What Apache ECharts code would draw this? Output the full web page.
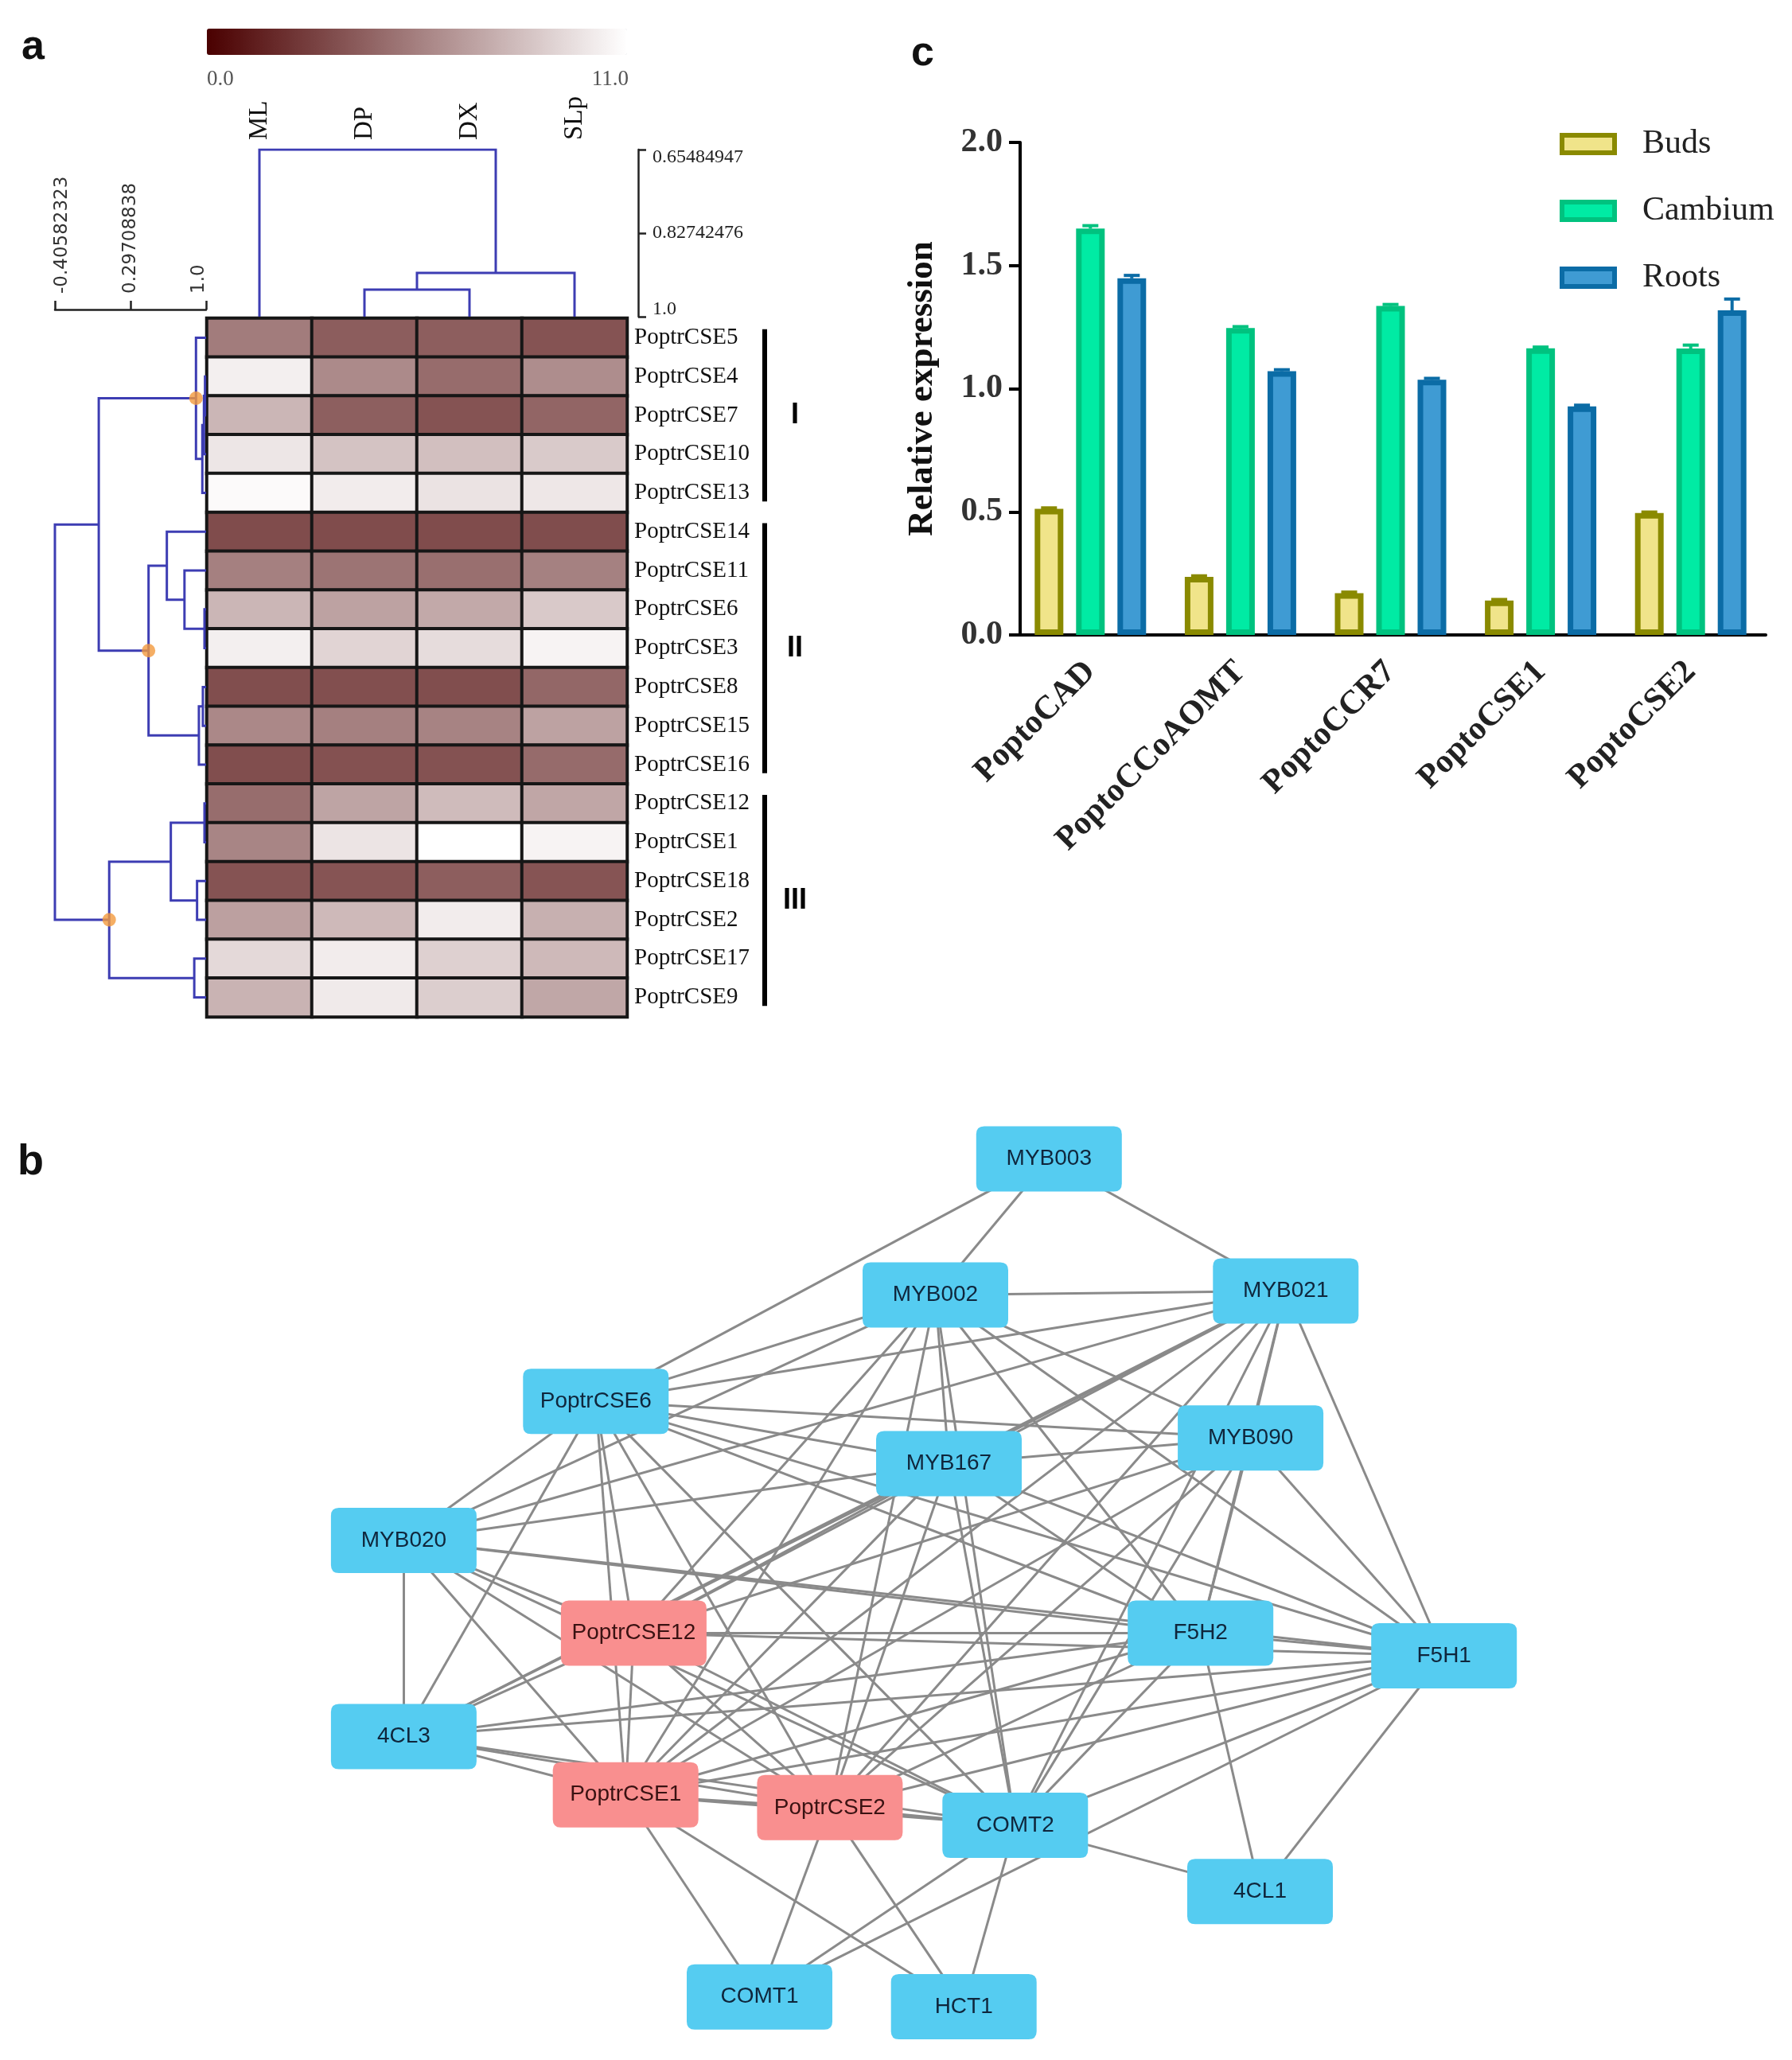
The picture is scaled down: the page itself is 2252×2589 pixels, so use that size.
<!DOCTYPE html>
<html>
<head>
<meta charset="utf-8">
<script src="https://cdn.jsdelivr.net/npm/echarts@6/dist/echarts.min.js"></script>
<style>
html,body{margin:0;padding:0;background:#fff;}
#chart{width:2252px;height:2589px;}
</style>
</head>
<body>
<div id="chart"></div>
<script>
// ---------- Panel a: heatmap data ----------
const colLabels = ['ML', 'DP', 'DX', 'SLp'];
const rowLabels = ['PoptrCSE5','PoptrCSE4','PoptrCSE7','PoptrCSE10','PoptrCSE13','PoptrCSE14','PoptrCSE11','PoptrCSE6','PoptrCSE3','PoptrCSE8','PoptrCSE15','PoptrCSE16','PoptrCSE12','PoptrCSE1','PoptrCSE18','PoptrCSE2','PoptrCSE17','PoptrCSE9'];
const valML  = [5.35,10.3,7.85,9.9,10.8,3.28,5.5,7.85,10.3,3.36,5.87,3.36,4.7,5.74,3.58,6.9,9.36,7.7];
const valDP  = [4.0,5.95,4.1,8.4,10.2,3.28,5.0,7.0,9.15,3.4,5.5,3.5,7.07,9.83,3.62,8.0,10.2,10.1];
const valDX  = [4.05,4.66,3.58,8.24,9.8,3.28,4.8,7.3,9.5,3.36,5.65,3.55,8.07,11.0,4.05,10.2,8.97,8.9];
const valSLp = [3.6,6.1,4.36,8.7,9.96,3.3,5.55,8.67,10.5,4.45,7.0,4.6,7.16,10.5,3.62,7.6,8.0,7.2];
const colorbarRange = [0, 11];
const colorbarLabels = ['0.0', '11.0'];
const heatColors = ['#4a0000', '#ffffff'];

// dendrogram trees: [similarity, left, right, markDot]
const colTree = [0.65484947, 'ML', [0.9096, [0.9441, 'DP', 'DX'], 'SLp']];
const rowTree = [-0.40582323,
  [0.002,
    [0.906, 'PoptrCSE5', [0.965, [0.98, [0.99, 'PoptrCSE4', 'PoptrCSE7'], 'PoptrCSE10'], 'PoptrCSE13'], true],
    [0.465, [0.635, 'PoptrCSE14', [0.799, 'PoptrCSE11', [0.985, 'PoptrCSE6', 'PoptrCSE3']]],
            [0.933, [0.970, 'PoptrCSE8', 'PoptrCSE15'], 'PoptrCSE16'], true]
  ],
  [0.099, [0.672, [0.985, 'PoptrCSE12', 'PoptrCSE1'], [0.916, 'PoptrCSE18', 'PoptrCSE2']],
          [0.890, 'PoptrCSE17', 'PoptrCSE9'], true]
];
const topScaleMin = 0.65484947;
const topScaleLabels = ['1.0', '0.82742476', '0.65484947'];
const leftScaleMin = -0.40582323;
const leftScaleLabels = ['1.0', '0.29708838', '-0.40582323'];
const groupNames = ['I', 'II', 'III'];
const groupStart = [0, 5, 12];
const groupEnd = [5, 12, 18];

// ---------- Panel c: bar data ----------
const genes = ['PoptoCAD', 'PoptoCCoAOMT', 'PoptoCCR7', 'PoptoCSE1', 'PoptoCSE2'];
const budsVals    = [0.512, 0.236, 0.170, 0.140, 0.495];
const budsErr     = [0.004, 0.004, 0.004, 0.004, 0.004];
const cambiumVals = [1.650, 1.246, 1.336, 1.164, 1.163];
const cambiumErr  = [0.012, 0.006, 0.006, 0.005, 0.014];
const rootsVals   = [1.448, 1.071, 1.036, 0.928, 1.318];
const rootsErr    = [0.012, 0.006, 0.006, 0.005, 0.046];
const yTickLabels = ['0.0', '0.5', '1.0', '1.5', '2.0'];

// ---------- Panel b: network ----------
const nodeNames = ['MYB003','MYB002','MYB021','PoptrCSE6','MYB090','MYB167','MYB020','PoptrCSE12','F5H2','F5H1','4CL3','PoptrCSE1','PoptrCSE2','COMT2','4CL1','COMT1','HCT1'];
const nodeX = [59.9, 51.5, 77.4, 26.4, 74.8, 52.5, 12.2, 29.2, 71.1, 89.1, 12.2, 28.6, 43.7, 57.4, 75.5, 38.5, 53.6];
const nodeY = [8.6, 22.4, 22.0, 33.2, 36.9, 39.5, 47.3, 56.7, 56.7, 59.0, 67.2, 73.1, 74.4, 76.2, 82.9, 93.6, 94.6];
const highlightNodes = ['PoptrCSE12', 'PoptrCSE1', 'PoptrCSE2'];
const edgeSources = [
 'MYB003','MYB003','MYB003',
 'MYB002','MYB002','MYB002','MYB002','MYB002','MYB002','MYB002','MYB002','MYB002','MYB002','MYB002',
 'MYB021','MYB021','MYB021','MYB021','MYB021','MYB021','MYB021','MYB021','MYB021','MYB021','MYB021',
 'PoptrCSE6','PoptrCSE6','PoptrCSE6','PoptrCSE6','PoptrCSE6','PoptrCSE6','PoptrCSE6','PoptrCSE6','PoptrCSE6','PoptrCSE6',
 'MYB090','MYB090','MYB090','MYB090','MYB090','MYB090','MYB090',
 'MYB167','MYB167','MYB167','MYB167','MYB167','MYB167','MYB167','MYB167',
 'MYB020','MYB020','MYB020','MYB020','MYB020','MYB020','MYB020',
 'PoptrCSE12','PoptrCSE12','PoptrCSE12','PoptrCSE12','PoptrCSE12','PoptrCSE12',
 'F5H2','F5H2','F5H2','F5H2','F5H2','F5H2',
 'F5H1','F5H1','F5H1','F5H1','F5H1','F5H1',
 '4CL3','4CL3','4CL3',
 'PoptrCSE1','PoptrCSE1','PoptrCSE1','PoptrCSE1',
 'PoptrCSE2','PoptrCSE2','PoptrCSE2',
 'COMT2','COMT2','COMT2'];
const edgeTargets = [
 'MYB002','MYB021','PoptrCSE6',
 'MYB021','PoptrCSE6','MYB020','MYB167','PoptrCSE12','PoptrCSE1','PoptrCSE2','COMT2','F5H2','F5H1','MYB090',
 'PoptrCSE6','MYB020','MYB167','MYB090','PoptrCSE12','PoptrCSE1','PoptrCSE2','COMT2','F5H2','F5H1','4CL3',
 'MYB090','MYB167','MYB020','4CL3','PoptrCSE12','PoptrCSE1','PoptrCSE2','COMT2','F5H2','F5H1',
 'MYB167','F5H1','F5H2','COMT2','PoptrCSE2','PoptrCSE1','PoptrCSE12',
 'MYB020','PoptrCSE12','PoptrCSE1','PoptrCSE2','COMT2','F5H1','F5H2','4CL3',
 '4CL3','PoptrCSE12','PoptrCSE1','PoptrCSE2','COMT2','F5H2','F5H1',
 '4CL3','PoptrCSE1','PoptrCSE2','COMT2','F5H2','F5H1',
 'F5H1','4CL3','PoptrCSE1','PoptrCSE2','COMT2','4CL1',
 '4CL3','PoptrCSE1','PoptrCSE2','COMT2','4CL1','COMT1',
 'PoptrCSE1','PoptrCSE2','COMT2',
 'PoptrCSE2','COMT2','COMT1','HCT1',
 'COMT2','COMT1','HCT1',
 '4CL1','COMT1','HCT1'];

// ---------- build helpers ----------
const heatData = [];
const colVals = [valML, valDP, valDX, valSLp];
colVals.forEach((arr, c) => arr.forEach((v, r) => heatData.push([c, r, v])));

function buildTree(node, index, segs, dots, rowMode) {
  if (typeof node === 'string') return { pos: index.indexOf(node) + 0.5, s: 1.0 };
  const L = buildTree(node[1], index, segs, dots, rowMode);
  const R = buildTree(node[2], index, segs, dots, rowMode);
  const s = node[0];
  const pts = [[1 - L.s, L.pos], [1 - s, L.pos], [1 - s, R.pos], [1 - R.s, R.pos]];
  segs.push({ coords: rowMode ? pts : pts.map(p => [p[1], p[0]]) });
  const mid = (L.pos + R.pos) / 2;
  if (node[3]) dots.push(rowMode ? [1 - s, mid] : [mid, 1 - s]);
  return { pos: mid, s: s };
}
const rowSegs = [], rowDots = [], colSegs = [], colDots = [];
buildTree(rowTree, rowLabels, rowSegs, rowDots, true);
buildTree(colTree, colLabels, colSegs, colDots, false);
const topSpan = 1 - topScaleMin;
const leftSpan = 1 - leftScaleMin;

const groupData = groupNames.map((g, i) => [groupStart[i], groupEnd[i], i]);

const serif = 'Liberation Serif';
const sans = 'Liberation Sans';
const dendroColor = '#3d3db3';

const seriesDefs = [
  { name: 'Buds', vals: budsVals, err: budsErr, fill: '#f0e48a', border: '#8a8a00' },
  { name: 'Cambium', vals: cambiumVals, err: cambiumErr, fill: '#00eba4', border: '#00c27f' },
  { name: 'Roots', vals: rootsVals, err: rootsErr, fill: '#3f9bd3', border: '#0b6ca6' }
];
const barW = 36, barStep = 52;

const nodes = nodeNames.map((n, i) => {
  const hi = highlightNodes.indexOf(n) >= 0;
  return {
    name: n, value: [nodeX[i], nodeY[i]],
    itemStyle: { color: hi ? '#f98f8f' : '#55ccf1' },
    label: { color: hi ? '#3a1212' : '#0f263c' }
  };
});
const links = edgeSources.map((s, i) => ({ source: s, target: edgeTargets[i] }));

const chart = echarts.init(document.getElementById('chart'), null, { renderer: 'canvas' });

const option = {
  animation: false,
  backgroundColor: '#ffffff',
  grid: [
    { left: 260, top: 400, width: 528, height: 878 },   // 0 heatmap
    { left: 260, top: 188, width: 528, height: 210 },   // 1 top dendrogram
    { left: 69, top: 400, width: 190, height: 878 },    // 2 left dendrogram
    { left: 940, top: 400, width: 100, height: 878 },   // 3 group marks
    { left: 1276, top: 179, width: 943, height: 619 },  // 4 bar chart
    { left: 300, top: 1350, width: 1700, height: 1239 } // 5 network
  ],
  xAxis: [
    { type: 'category', gridIndex: 0, data: colLabels, position: 'top', offset: 212,
      axisLine: { show: false }, axisTick: { show: false }, splitLine: { show: false },
      axisLabel: { rotate: -90, margin: 12, fontFamily: serif, fontSize: 33, color: '#111' } },
    { type: 'value', gridIndex: 1, min: 0, max: colLabels.length, show: false },
    { type: 'value', gridIndex: 2, min: 0, max: leftSpan, interval: leftSpan / 2, inverse: true,
      position: 'top', offset: 11,
      axisLine: { show: true, onZero: false, lineStyle: { color: '#222', width: 2.5 } },
      axisTick: { show: true, length: 11, lineStyle: { color: '#222', width: 2.5 } },
      splitLine: { show: false },
      axisLabel: { rotate: -90, margin: 20, fontFamily: 'DejaVu Sans', fontSize: 23, color: '#333',
        showMinLabel: true, showMaxLabel: true,
        formatter: v => {
          const k = Math.round(v / (leftSpan / 2));
          const tag = k === 0 ? 'a' : (k === 2 ? 'b' : 'c');
          return '{' + tag + '|' + leftScaleLabels[k] + '}';
        },
        rich: {
          a: { fontFamily: 'DejaVu Sans', fontSize: 23, color: '#333', padding: [0, 0, 18, 0] },
          b: { fontFamily: 'DejaVu Sans', fontSize: 23, color: '#333', padding: [18, 0, 0, 0] },
          c: { fontFamily: 'DejaVu Sans', fontSize: 23, color: '#333' }
        } } },
    { type: 'value', gridIndex: 3, min: 0, max: 1, show: false },
    { type: 'category', gridIndex: 4, data: genes,
      axisLine: { lineStyle: { color: '#000', width: 4 } },
      axisTick: { alignWithLabel: true, length: 15, lineStyle: { color: '#000', width: 4 } },
      axisLabel: { rotate: 45, interval: 0, margin: 40, fontFamily: serif, fontWeight: 'bold', fontSize: 42, color: '#222' } },
    { type: 'value', gridIndex: 5, min: 0, max: 100, show: false }
  ],
  yAxis: [
    { type: 'category', gridIndex: 0, data: rowLabels, inverse: true, position: 'right',
      axisLine: { show: false }, axisTick: { show: false }, splitLine: { show: false },
      axisLabel: { margin: 9, fontFamily: serif, fontSize: 29, color: '#111' } },
    { type: 'value', gridIndex: 1, min: 0, max: topSpan, interval: topSpan / 2, position: 'right', offset: 14,
      axisLine: { show: true, onZero: false, lineStyle: { color: '#222', width: 2.5 } },
      axisTick: { show: true, length: 10, lineStyle: { color: '#222', width: 2.5 } },
      splitLine: { show: false },
      axisLabel: { margin: 18, fontFamily: serif, fontSize: 24, color: '#222',
        showMinLabel: true, showMaxLabel: true,
        formatter: v => {
          const k = Math.round(v / (topSpan / 2));
          const tag = k === 0 ? 'a' : (k === 2 ? 'b' : 'c');
          return '{' + tag + '|' + topScaleLabels[k] + '}';
        },
        rich: {
          a: { fontFamily: serif, fontSize: 24, color: '#222', padding: [0, 0, 18, 0] },
          b: { fontFamily: serif, fontSize: 24, color: '#222', padding: [20, 0, 0, 0] },
          c: { fontFamily: serif, fontSize: 24, color: '#222' }
        } } },
    { type: 'value', gridIndex: 2, min: 0, max: rowLabels.length, inverse: true, show: false },
    { type: 'value', gridIndex: 3, min: 0, max: rowLabels.length, inverse: true, show: false },
    { type: 'value', gridIndex: 4, min: 0, max: 2, interval: 0.5, offset: -6,
      name: 'Relative expression', nameLocation: 'middle', nameGap: 100,
      nameTextStyle: { fontFamily: serif, fontWeight: 'bold', fontSize: 45, color: '#111' },
      axisLine: { show: true, lineStyle: { color: '#000', width: 4 } },
      axisTick: { show: true, length: 14, lineStyle: { color: '#000', width: 4 } },
      splitLine: { show: false },
      axisLabel: { margin: 22, fontFamily: serif, fontWeight: 'bold', fontSize: 42, color: '#333',
        formatter: v => yTickLabels[Math.round(v / 0.5)] } },
    { type: 'value', gridIndex: 5, min: 0, max: 100, inverse: true, show: false }
  ],
  visualMap: {
    type: 'continuous', seriesIndex: 0, dimension: 2, min: colorbarRange[0], max: colorbarRange[1],
    orient: 'horizontal', left: 260, top: 36, itemWidth: 33, itemHeight: 528, padding: 0,
    calculable: false, realtime: false, text: null, showLabel: false,
    inRange: { color: heatColors }
  },
  legend: {
    data: seriesDefs.map(d => d.name), orient: 'vertical', left: 1955, top: 154,
    itemWidth: 66, itemHeight: 22, itemGap: 40, icon: 'rect',
    itemStyle: { borderWidth: 6 },
    textStyle: { fontFamily: serif, fontSize: 42, color: '#222', lineHeight: 44, padding: [0, 0, 0, 30] }
  },
  graphic: [
    { type: 'text', left: 27, top: 34, style: { text: 'a', font: 'bold 52px "Liberation Sans"', fill: '#111' } },
    { type: 'text', left: 1145, top: 42, style: { text: 'c', font: 'bold 52px "Liberation Sans"', fill: '#111' } },
    { type: 'text', left: 22, top: 1434, style: { text: 'b', font: 'bold 54px "Liberation Sans"', fill: '#111' } },
    { type: 'text', left: 260, top: 86, style: { text: colorbarLabels[0], font: '27px "Liberation Serif"', fill: '#555' } },
    { type: 'text', right: 2252 - 790, top: 86, style: { text: colorbarLabels[1], font: '27px "Liberation Serif"', fill: '#555', textAlign: 'right' } }
  ],
  series: [
    { type: 'heatmap', xAxisIndex: 0, yAxisIndex: 0, data: heatData,
      itemStyle: { borderColor: '#161616', borderWidth: 4 }, emphasis: { disabled: true } },
    { type: 'lines', coordinateSystem: 'cartesian2d', xAxisIndex: 1, yAxisIndex: 1, polyline: true,
      data: colSegs, lineStyle: { color: dendroColor, width: 3, opacity: 1 }, silent: true },
    { type: 'lines', coordinateSystem: 'cartesian2d', xAxisIndex: 2, yAxisIndex: 2, polyline: true,
      data: rowSegs, lineStyle: { color: dendroColor, width: 3, opacity: 1 }, silent: true },
    { type: 'scatter', xAxisIndex: 2, yAxisIndex: 2, data: rowDots, symbolSize: 17, z: 5,
      itemStyle: { color: '#f39a3d' }, silent: true },
    { type: 'custom', xAxisIndex: 3, yAxisIndex: 3, data: groupData, silent: true,
      encode: { x: -1, y: [0, 1] },
      renderItem: function (params, api) {
        const p1 = api.coord([0.21, api.value(0) + 0.28]);
        const p2 = api.coord([0.21, api.value(1) - 0.28]);
        const pc = api.coord([0.59, (api.value(0) + api.value(1)) / 2]);
        return { type: 'group', children: [
          { type: 'line', shape: { x1: p1[0], y1: p1[1], x2: p2[0], y2: p2[1] }, style: { stroke: '#000', lineWidth: 6 } },
          { type: 'text', x: pc[0], y: pc[1], style: { text: groupNames[api.value(2)], font: 'bold 36px "Liberation Sans"', fill: '#000', textAlign: 'center', textVerticalAlign: 'middle' } }
        ] };
      } }
  ].concat(seriesDefs.map(d => ({
    type: 'bar', name: d.name, xAxisIndex: 4, yAxisIndex: 4, data: d.vals,
    barWidth: barW, barGap: ((barStep - barW) / barW * 100) + '%',
    itemStyle: { color: d.fill, borderColor: d.border, borderWidth: 7 }, emphasis: { disabled: true }
  }))).concat(seriesDefs.map((d, si) => ({
    type: 'custom', xAxisIndex: 4, yAxisIndex: 4, silent: true, z: 3,
    data: d.vals.map((v, i) => [i, v, d.err[i]]),
    encode: { x: 0, y: 1 },
    renderItem: function (params, api) {
      const off = (si - 1) * barStep;
      const a = api.coord([api.value(0), api.value(1)]);
      const b = api.coord([api.value(0), api.value(1) + api.value(2)]);
      const x = a[0] + off;
      return { type: 'group', children: [
        { type: 'line', shape: { x1: x, y1: a[1], x2: x, y2: b[1] }, style: { stroke: d.border, lineWidth: 4 } },
        { type: 'line', shape: { x1: x - 10, y1: b[1], x2: x + 10, y2: b[1] }, style: { stroke: d.border, lineWidth: 4 } }
      ] };
    }
  }))).concat([
    { type: 'graph', coordinateSystem: 'cartesian2d', xAxisIndex: 5, yAxisIndex: 5, layout: 'none',
      data: nodes, links: links, silent: true,
      symbol: 'path://M10,0 H173 Q183,0 183,10 V72 Q183,82 173,82 H10 Q0,82 0,72 V10 Q0,0 10,0 Z',
      symbolSize: [183, 82],
      label: { show: true, position: 'inside', fontFamily: sans, fontSize: 28 },
      lineStyle: { color: '#8a8a8a', width: 3, opacity: 1, curveness: 0 },
      emphasis: { disabled: true } }
  ])
};
chart.setOption(option);
</script>
</body>
</html>
